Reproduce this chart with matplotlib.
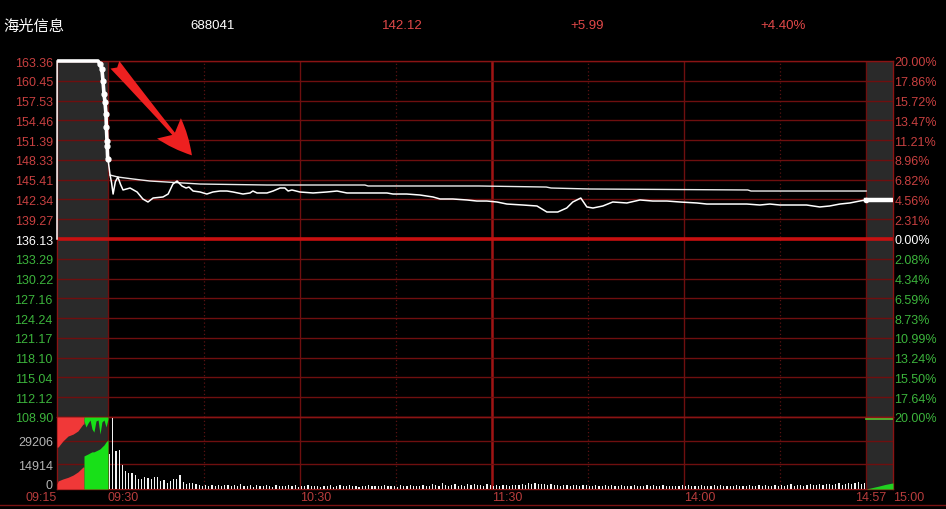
import numpy as np
import matplotlib
matplotlib.use("Agg")
import matplotlib.pyplot as plt
from matplotlib.transforms import blended_transform_factory, ScaledTranslation
from matplotlib.patches import FancyArrowPatch

plt.rcParams['font.family'] = ['Liberation Sans', 'DejaVu Sans']

# ---------------- header ----------------
STOCK_NAME = "海光信息"
STOCK_CODE = "688041"
LAST_PRICE = "142.12"
CHANGE = "+5.99"
CHANGE_PCT = "+4.40%"

# ---------------- axes values ----------------
PREV_CLOSE = 136.13
PRICE_TOP = 163.36
PRICE_BOTTOM = 108.90
PRICE_LABELS = ["163.36", "160.45", "157.53", "154.46", "151.39", "148.33", "145.41",
                "142.34", "139.27", "136.13", "133.29", "130.22", "127.16", "124.24",
                "121.17", "118.10", "115.04", "112.12", "108.90"]
PCT_LABELS = ["20.00%", "17.86%", "15.72%", "13.47%", "11.21%", "8.96%", "6.82%",
              "4.56%", "2.31%", "0.00%", "2.08%", "4.34%", "6.59%", "8.73%",
              "10.99%", "13.24%", "15.50%", "17.64%", "20.00%"]
VOL_TICKS = [0, 14914, 29206]
VOL_TICK_LABELS = ["0", "14914", "29206"]
VOL_MAX = 43809

# x units: minutes of continuous trading (0 = 09:30, 237 = 14:57);
# auction band before 0 and closing-auction band after 237
X_START = -15.94
X_END = 245.4
TIME_LABELS = ["09:15", "09:30", "10:30", "11:30", "14:00", "14:57", "15:00"]
TIME_POS = [-15.94, 0, 60, 120, 180, 238.4, 245.4]
TIME_HA = ["right", "left", "left", "left", "left", "center", "left"]
SOLID_V = [60, 180]
MAJOR_V = [120]
DOTTED_V = [30, 90, 150, 210]

# ---------------- auction (09:15-09:30) ----------------
AUC_PRICE_X = [-15.94, -15.90, -3.1, -2.5, -1.9, -1.56, -1.25, -0.94, -0.63, -0.5, -0.31, -0.25, -0.1]
AUC_PRICE = [136.13, 163.36, 163.36, 162.90, 162.14, 160.30, 158.31, 157.09, 155.25, 153.26,
             151.12, 150.36, 148.37]

AUC_RED_X = [-15.94, -15.6, -14.1, -12.5, -10.9, -9.4, -7.8, -7.5]
AUC_RED_MATCH = [3000, 4900, 6100, 7100, 8500, 10400, 13400, 13400]
AUC_RED_UNMATCH = [18300, 18300, 14600, 11600, 10400, 8500, 4300, 4300]

AUC_GREEN_X = [-7.5, -6.9, -6.25, -5.6, -5.0, -4.4, -3.75, -3.1, -2.5, -1.9, -1.25, -0.6, 0]
AUC_GREEN_MATCH = [20100, 20700, 21300, 22000, 22600, 22600, 23200, 23800, 24400, 25600,
                   26800, 28700, 29900]
AUC_GREEN_UNMATCH = [2400, 6100, 3700, 1800, 7300, 9200, 2400, 1800, 10400, 3000, 1800, 6100, 1200]

# ---------------- continuous trading ----------------
MAIN_T = [0.0, 0.6, 1.1, 1.6, 2.3, 3.1, 3.9, 4.7, 6.9, 9.1, 10.9, 12.5, 14.1, 17.2, 18.8,
          20.3, 21.6, 23.1, 24.4, 25.3, 26.6, 28.8, 30.9, 32.8, 35.0, 37.2, 39.1, 42.2,
          44.4, 45.3, 46.6, 49.7, 51.6, 53.8, 55.3, 56.3, 57.5, 60.0, 64.1, 68.4, 71.6,
          74.7, 78.8, 82.8, 87.2, 89.1, 93.4, 97.5, 101.6, 103.8, 107.8, 112.2, 115.3,
          118.4, 121.6, 124.7, 129.7, 134.1, 137.2, 140.6, 143.4, 145.3, 147.8, 149.7,
          151.6, 154.7, 157.8, 162.2, 166.3, 170.3, 174.7, 178.8, 184.1, 187.2, 191.3,
          195.3, 199.7, 203.8, 206.9, 210.0, 214.1, 218.4, 222.5, 225.6, 228.8, 231.9,
          235.0, 237.0]
MAIN_PRICE = [148.37, 146.07, 144.80, 143.01, 144.90, 145.61, 144.50, 143.63, 143.93, 143.32,
              142.25, 141.79, 142.40, 142.56, 143.01, 144.54, 145.00, 144.24, 143.93, 144.08,
              143.47, 143.32, 143.01, 143.32, 143.47, 143.47, 143.32, 143.01, 143.17, 143.47,
              143.17, 143.17, 143.47, 143.93, 143.93, 143.47, 143.63, 143.32, 143.17, 143.32,
              143.47, 143.17, 143.17, 143.17, 143.17, 143.01, 143.01, 142.86, 142.56, 142.25,
              142.25, 142.10, 141.94, 141.94, 141.79, 141.48, 141.33, 141.18, 140.26, 140.26,
              140.87, 141.79, 142.40, 141.03, 140.87, 141.18, 141.79, 141.64, 142.10, 141.94,
              141.94, 141.79, 141.64, 141.48, 141.48, 141.48, 141.48, 141.33, 141.48, 141.33,
              141.33, 141.33, 141.03, 141.18, 141.48, 141.64, 141.94, 142.12]

AVG_T = [0.6, 3.1, 7.8, 13.1, 28.8, 49.7, 80.3, 81.3, 116.0, 137.0, 138.5, 150.5, 200.0, 201.0, 237.0]
AVG_PRICE = [145.92, 145.61, 145.31, 145.00, 144.54, 144.39, 144.39, 144.24, 144.24, 144.08,
             143.93, 143.78, 143.63, 143.47, 143.47]

MAIN_VOL = [21350, 43300, 23200, 23800, 14600, 11000, 9800, 9800, 8500, 6100,
            6100, 7300, 6700, 6100, 7300, 7300, 4900, 5500, 3700, 4900,
            6100, 6100, 8500, 4300, 3000, 3700, 3700,
            3000, 2400, 2100, 2700, 1800, 2400, 2000, 2600, 1700, 2200,
            2500, 1900, 2300, 1600, 2800, 2100, 1900, 2400, 1500, 2200,
            2000, 1700, 2600, 1900, 1400, 2300, 1800, 2100, 1600, 2500,
            1900, 2200, 1500, 2000, 1800, 2400, 1600, 1900, 2100, 1400,
            2000, 1700, 2300, 1500, 1900, 2200, 1600, 1800, 2500, 1700,
            1900, 1500, 2100, 1800, 2300, 1600, 2000, 1700, 1900, 2400,
            1600, 2000, 1800, 1500, 2200, 1700, 1900, 2300, 1600, 2000,
            1800, 2600, 2100, 1700, 2900, 2200, 1900, 3600, 2300, 2000,
            2700, 3300, 2100, 2500, 1800, 3100, 2600, 3000, 2200, 2400,
            2000, 2800, 2300, 1900, 2500, 2100, 2700, 2400, 2000, 2300,
            2600, 2200, 3200, 2700, 3500, 3000, 3700, 3300, 2800, 3100,
            2500, 2900, 2300, 2600, 2100, 2400, 2700, 2000, 2300, 2500,
            1900, 2200, 2600, 1800, 2100, 2400, 1700, 2000, 2300, 1900,
            2200, 1600, 2000, 2400, 1800, 2100, 1700, 2300, 1900, 2000,
            1600, 2200, 1800, 2500, 1700, 2000, 2300, 1800, 2100, 1600,
            2000, 1800, 2400, 1700, 2200, 1900, 2100, 1600, 2300, 1800,
            2000, 1700, 2200, 1900, 2400, 1800, 2100, 2000, 1700, 2300,
            1900, 2100, 1800, 2500, 2000, 1700, 2200, 1900, 2400, 2100,
            1800, 2300, 2000, 2600, 1900, 2200, 2800, 2000, 2400, 2700,
            2100, 2500, 2900, 2200, 2600, 3100, 2300, 2800, 3300, 2500,
            2900, 3400, 2600, 3000, 3800, 2800, 3500, 4100, 3200, 3700]

# ---------------- closing auction (14:57-15:00) ----------------
CLOSE_X = [237.0, 245.4]
CLOSE_PRICE = [142.12, 142.12]
CLOSE_VOL_X = [237.0, 239.0, 241.0, 243.0, 245.4]
CLOSE_VOL = [0, 900, 1800, 2800, 3700]
CLOSE_UNMATCH = [42600, 42600]

# ---------------- colours ----------------
BG = "#000000"
GRAY = "#2a2a2a"
GRID = "#6e0f0f"
ZERO = "#c81010"
RED_TXT = "#c84040"
HEAD_RED = "#e04848"
GREEN_TXT = "#3cb43c"
VOL_TXT = "#b4b4b4"

W, H = 946, 510
fig = plt.figure(figsize=(W / 100, H / 100), dpi=100, facecolor=BG)

def fx(px):
    return px / W

def fy(py):
    return 1 - py / H

L, R = 57, 893
ax_p = fig.add_axes([fx(L), fy(418), fx(R) - fx(L), fy(62) - fy(418)], facecolor=BG)
ax_v = fig.add_axes([fx(L), fy(490), fx(R) - fx(L), fy(418) - fy(490)], facecolor=BG, sharex=ax_p)

for ax in (ax_p, ax_v):
    ax.set_xlim(X_START, X_END)
    for s in ax.spines.values():
        s.set_color("#8a1414")
        s.set_linewidth(1.0)
    ax.axvspan(X_START, 0, color=GRAY, zorder=0, lw=0)
    ax.axvspan(237, X_END, color=GRAY, zorder=0, lw=0)
    for xv in SOLID_V + [0, 237]:
        ax.axvline(xv, color=GRID, lw=1.0, zorder=1)
    for xv in MAJOR_V:
        ax.axvline(xv, color="#a01414", lw=1.8, zorder=1)
    for xv in DOTTED_V:
        ax.axvline(xv, color="#5a1212", lw=0.9, ls=(0, (1, 2)), zorder=1)
    ax.tick_params(axis="x", bottom=False, labelbottom=False)

# price panel
ax_p.set_ylim(PRICE_BOTTOM, PRICE_TOP)
tick_pos = np.linspace(PRICE_TOP, PRICE_BOTTOM, len(PRICE_LABELS))
for yv in tick_pos:
    if abs(yv - PREV_CLOSE) < 1e-6:
        ax_p.axhline(yv, color=ZERO, lw=2.6, zorder=2)
    else:
        ax_p.axhline(yv, color=GRID, lw=1.0, zorder=1)

ax_p.set_yticks(tick_pos)
ax_p.set_yticklabels(PRICE_LABELS)
ax_p.tick_params(axis="y", length=0, pad=3, labelsize=9)
n_half = len(PRICE_LABELS) // 2
for i, t in enumerate(ax_p.get_yticklabels()):
    t.set_color(RED_TXT if i < n_half else ("#ffffff" if i == n_half else GREEN_TXT))

ax_r = ax_p.twinx()
ax_r.set_ylim(PRICE_BOTTOM, PRICE_TOP)
ax_r.set_yticks(tick_pos)
ax_r.set_yticklabels(PCT_LABELS)
ax_r.tick_params(axis="y", length=0, pad=1, labelsize=9)
for s in ax_r.spines.values():
    s.set_visible(False)
for i, t in enumerate(ax_r.get_yticklabels()):
    t.set_color(RED_TXT if i < n_half else ("#ffffff" if i == n_half else GREEN_TXT))

# auction price line: thin opening jump, thick limit-up segment, dotted descent
ax_p.plot(AUC_PRICE_X[:2], AUC_PRICE[:2], color="white", lw=1.1, zorder=6, clip_on=False)
ax_p.plot(AUC_PRICE_X[1:], AUC_PRICE[1:], color="white", lw=2.6, zorder=6, solid_capstyle="butt",
          clip_on=False)
ax_p.plot(AUC_PRICE_X[3:], AUC_PRICE[3:], ls="none", marker="o", ms=3.5, color="white",
          zorder=6, clip_on=False)
ax_p.plot([AUC_PRICE_X[-1], MAIN_T[0]], [AUC_PRICE[-1], MAIN_PRICE[0]], color="white", lw=1.2, zorder=5)

# main price + average
ax_p.plot(MAIN_T, MAIN_PRICE, color="white", lw=1.1, zorder=5)
ax_p.plot(AVG_T, AVG_PRICE, color="#ececec", lw=1.0, zorder=4)

# closing auction price
ax_p.plot(CLOSE_X, CLOSE_PRICE, color="white", lw=3.2, zorder=5, marker="o", ms=3, markevery=[0])

# arrow
arrow = FancyArrowPatch((1.6, 163.1), (26.8, 148.6),
                        arrowstyle="fancy,head_length=0.85,head_width=0.75,tail_width=0.28",
                        mutation_scale=30, color="#ee2020", lw=0, zorder=7)
ax_p.add_patch(arrow)

# volume panel
ax_v.set_ylim(0, VOL_MAX)
for yv in VOL_TICKS[1:] + [VOL_MAX]:
    ax_v.axhline(yv, color=GRID, lw=1.0, zorder=1)
ax_v.set_yticks(VOL_TICKS)
ax_v.set_yticklabels(VOL_TICK_LABELS)
ax_v.tick_params(axis="y", length=0, pad=3, labelsize=9, labelcolor=VOL_TXT)
lab0 = ax_v.get_yticklabels()[0]
lab0.set_transform(lab0.get_transform() + ScaledTranslation(0, 4 / 72, fig.dpi_scale_trans))

# auction volume fills
ax_v.fill_between(AUC_RED_X, 0, AUC_RED_MATCH, color="#f03838", lw=0, zorder=3)
ax_v.fill_between(AUC_RED_X, [VOL_MAX - u for u in AUC_RED_UNMATCH], VOL_MAX,
                  color="#f03838", lw=0, zorder=3)
ax_v.fill_between(AUC_GREEN_X, 0, AUC_GREEN_MATCH, color="#18e018", lw=0, zorder=3)
ax_v.fill_between(AUC_GREEN_X, [VOL_MAX - u for u in AUC_GREEN_UNMATCH], VOL_MAX,
                  color="#18e018", lw=0, zorder=3)

# minute volume bars
bar_x = np.arange(len(MAIN_VOL)) + 0.5
ax_v.bar(bar_x, MAIN_VOL, width=0.38, color="#f2f2f2", lw=0, zorder=3)

# closing auction volume
ax_v.fill_between(CLOSE_VOL_X, 0, CLOSE_VOL, color="#20d020", lw=0, zorder=3)
ax_v.plot(CLOSE_X, CLOSE_UNMATCH, color="#5cc030", lw=1.2, zorder=3)

# time labels
tr = blended_transform_factory(ax_v.transData, fig.transFigure)
for lab, xp, ha in zip(TIME_LABELS, TIME_POS, TIME_HA):
    ax_v.text(xp, fy(498.5), lab, transform=tr, ha=ha, va="center", fontsize=9,
              color="#b83c3c", clip_on=False)

# bottom line
fig.add_artist(plt.Line2D([0, 1], [fy(505.5), fy(505.5)], transform=fig.transFigure,
                          color="#7a1212", lw=1.0))

# header
fig.text(fx(3), fy(26), STOCK_NAME, color="white", fontsize=11,
         family=["Noto Sans CJK SC", "DejaVu Sans"], va="center", ha="left")
fig.text(fx(190), fy(26), STOCK_CODE, color="white", fontsize=9.5, va="center", ha="left")
fig.text(fx(382), fy(26), LAST_PRICE, color=HEAD_RED, fontsize=9.5, va="center", ha="left")
fig.text(fx(570), fy(26), CHANGE, color=HEAD_RED, fontsize=9.5, va="center", ha="left")
fig.text(fx(760), fy(26), CHANGE_PCT, color=HEAD_RED, fontsize=9.5, va="center", ha="left")

fig.savefig("out.png", dpi=100, facecolor=BG)
